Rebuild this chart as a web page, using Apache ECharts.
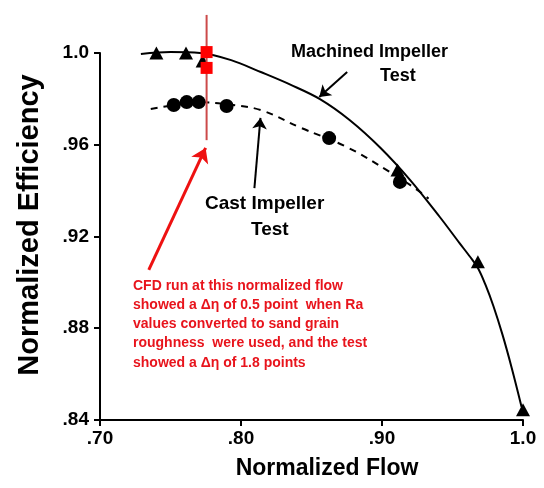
<!DOCTYPE html>
<html>
<head>
<meta charset="utf-8">
<script src="https://cdn.jsdelivr.net/npm/echarts@6/dist/echarts.min.js"></script>
<style>
  html, body { margin: 0; padding: 0; background: #fff; }
  #chart { width: 544px; height: 488px; }
</style>
</head>
<body>
<div id="chart"></div>
<script>
// tick labels
const xTickLabels = [".70", ".80", ".90", "1.0"];
const yTickLabels = [".84", ".88", ".92", ".96", "1.0"];

// machined impeller test points (triangles)
const machinedFlow = [0.74, 0.761, 0.7728, 0.911, 0.968, 1.0];
const machinedEff = [1.0, 1.0, 0.9965, 0.949, 0.909, 0.8445];

// cast impeller test points (circles)
const castFlow = [0.7523, 0.7615, 0.77, 0.7898, 0.8625, 0.9127];
const castEff = [0.9773, 0.9786, 0.9786, 0.9769, 0.9629, 0.9438];

// fitted curves
const machinedCurveFlow = [0.729, 0.750, 0.771, 0.793, 0.814, 0.835, 0.856, 0.877, 0.899, 0.920, 0.941, 0.955, 0.962, 0.968, 0.9735, 0.979, 0.9855, 0.992, 0.999];
const machinedCurveEff = [0.9996, 1.0004, 1.0, 0.9969, 0.9917, 0.9862, 0.9799, 0.9708, 0.9586, 0.9446, 0.9285, 0.9171, 0.9115, 0.9063, 0.8988, 0.8897, 0.8771, 0.8627, 0.8457];
const castCurveFlow = [0.736, 0.755, 0.77, 0.79, 0.814, 0.842, 0.875, 0.906, 0.925, 0.933];
const castCurveEff = [0.9756, 0.9775, 0.9785, 0.9776, 0.9751, 0.9675, 0.959, 0.948, 0.9403, 0.9365];

// CFD run points and marker line
const cfdFlow = [0.7756, 0.7756];
const cfdEff = [1.0004, 0.9935];
const cfdLineEff = [1.0166, 0.962];

const zip = (xs, ys) => xs.map((x, i) => [x, ys[i]]);

const font = "'Liberation Sans', Arial, sans-serif";
const chart = echarts.init(document.getElementById("chart"));

const arrow = (from, to, color, width, size) => ({
  symbol: ["none", "arrow"],
  symbolSize: size,
  silent: true,
  animation: false,
  label: { show: false },
  emphasis: { disabled: true },
  lineStyle: { color, width, type: "solid", opacity: 1 },
  itemStyle: { color },
  data: [[{ coord: from }, { coord: to }]],
});

chart.setOption({
  animation: false,
  grid: { left: 100, right: 21, top: 53, bottom: 68 },
  xAxis: {
    type: "value",
    min: 0.7,
    max: 1.0,
    interval: 0.1,
    axisLine: { lineStyle: { color: "#000", width: 2 } },
    axisTick: { length: 6, lineStyle: { color: "#000", width: 2 } },
    splitLine: { show: false },
    axisLabel: {
      color: "#000",
      fontSize: 19,
      fontWeight: "bold",
      fontFamily: font,
      margin: 9,
      formatter: (v, i) => xTickLabels[i],
    },
  },
  yAxis: {
    type: "value",
    min: 0.84,
    max: 1.0,
    interval: 0.04,
    axisLine: { show: true, lineStyle: { color: "#000", width: 2 } },
    axisTick: { show: true, length: 6, lineStyle: { color: "#000", width: 2 } },
    splitLine: { show: false },
    axisLabel: {
      color: "#000",
      fontSize: 19,
      fontWeight: "bold",
      fontFamily: font,
      margin: 11,
      formatter: (v, i) => yTickLabels[i],
    },
  },
  series: [
    {
      name: "Machined curve",
      type: "line",
      smooth: 0.35,
      symbol: "none",
      data: zip(machinedCurveFlow, machinedCurveEff),
      lineStyle: { color: "#000", width: 2 },
      clip: false,
      z: 2,
      markLine: arrow([0.8753, 0.9917], [0.8555, 0.9808], "#000", 2, 11),
    },
    {
      name: "Cast curve",
      type: "line",
      smooth: 0.4,
      symbol: "none",
      data: zip(castCurveFlow, castCurveEff),
      lineStyle: { color: "#000", width: 2, type: [7, 6] },
      clip: false,
      z: 2,
      markLine: arrow([0.8095, 0.9411], [0.8138, 0.9717], "#000", 2, 11),
    },
    {
      name: "Machined Impeller Test",
      type: "scatter",
      symbol: "triangle",
      symbolSize: [14, 13],
      data: zip(machinedFlow, machinedEff),
      itemStyle: { color: "#000", opacity: 1 },
      clip: false,
      z: 3,
    },
    {
      name: "Cast Impeller Test",
      type: "scatter",
      symbol: "circle",
      symbolSize: 14,
      data: zip(castFlow, castEff),
      itemStyle: { color: "#000", opacity: 1 },
      clip: false,
      z: 3,
    },
    {
      name: "CFD flow",
      type: "line",
      symbol: "none",
      data: zip(cfdFlow, cfdLineEff),
      lineStyle: { color: "#cc4a4a", width: 2 },
      clip: false,
      z: 4,
      markLine: arrow([0.7346, 0.9054], [0.7749, 0.9586], "#ee1111", 3, 14),
    },
    {
      name: "CFD run",
      type: "scatter",
      symbol: "rect",
      symbolSize: 12,
      data: zip(cfdFlow, cfdEff),
      itemStyle: { color: "#ff0000", opacity: 1 },
      clip: false,
      z: 5,
    },
  ],
  graphic: [
    {
      type: "text",
      x: 30,
      y: 225,
      rotation: Math.PI / 2,
      style: {
        text: "Normalized Efficiency",
        fill: "#000",
        font: "bold 29px " + font,
        align: "center",
        verticalAlign: "middle",
      },
    },
    {
      type: "text",
      x: 327,
      y: 469,
      style: {
        text: "Normalized Flow",
        fill: "#000",
        font: "bold 23px " + font,
        align: "center",
        verticalAlign: "middle",
      },
    },
    {
      type: "text",
      left: 291,
      top: 43,
      style: { text: "Machined Impeller", fill: "#000", font: "bold 18px " + font },
    },
    {
      type: "text",
      left: 380,
      top: 67,
      style: { text: "Test", fill: "#000", font: "bold 18px " + font },
    },
    {
      type: "text",
      left: 205,
      top: 194,
      style: { text: "Cast Impeller", fill: "#000", font: "bold 19px " + font },
    },
    {
      type: "text",
      left: 251,
      top: 220,
      style: { text: "Test", fill: "#000", font: "bold 19px " + font },
    },
    {
      type: "text",
      left: 133,
      top: 276,
      style: {
        text: "CFD run at this normalized flow\nshowed a \u0394\u03b7 of 0.5 point  when Ra\nvalues converted to sand grain\nroughness  were used, and the test\nshowed a \u0394\u03b7 of 1.8 points",
        fill: "#e8141c",
        font: "bold 14px " + font,
        lineHeight: 19.3,
      },
    },
  ],
});
</script>
</body>
</html>
